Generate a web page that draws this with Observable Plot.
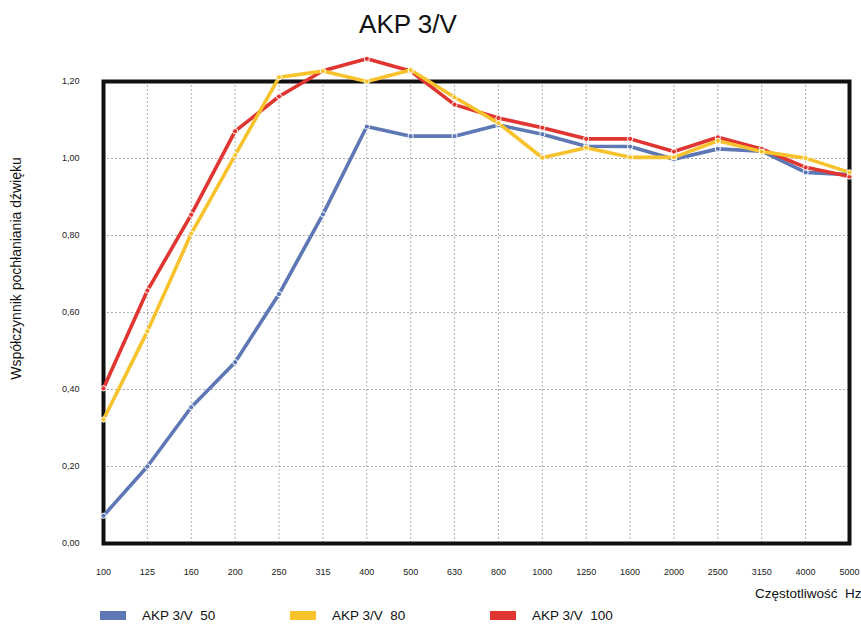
<!DOCTYPE html>
<html>
<head>
<meta charset="utf-8">
<script src="https://cdn.jsdelivr.net/npm/d3@7"></script>
<script src="https://cdn.jsdelivr.net/npm/@observablehq/plot@0.6"></script>
<style>
  html, body { margin: 0; padding: 0; background: white; }
  body { width: 861px; height: 625px; position: relative; overflow: hidden; font-family: "Liberation Sans", Arial, sans-serif; }
  #title { position: absolute; left: 0; top: 8px; width: 816px; text-align: center; font-size: 26px; line-height: 32px; color: #111; }
  #chart { position: absolute; left: 0; top: 50px; }
  .leg { position: absolute; top: 606px; height: 19px; display: flex; align-items: center; font-size: 13.5px; color: #111; }
  .sw { width: 26px; height: 9px; margin-right: 16px; }
</style>
</head>
<body>
<div id="title">AKP 3/V</div>
<div id="chart"></div>
<div id="legend"></div>
<script>
const freqs = ["100","125","160","200","250","315","400","500","630","800","1000","1250","1600","2000","2500","3150","4000","5000"];
const akp50  = [0.072,0.200,0.354,0.471,0.648,0.855,1.083,1.058,1.058,1.087,1.063,1.032,1.031,0.998,1.025,1.019,0.964,0.958];
const akp80  = [0.322,0.551,0.805,1.009,1.211,1.227,1.200,1.230,1.159,1.092,1.002,1.028,1.003,1.003,1.046,1.018,1.001,0.964];
const akp100 = [0.403,0.657,0.854,1.071,1.161,1.228,1.259,1.227,1.140,1.105,1.080,1.051,1.051,1.018,1.055,1.025,0.977,0.953];
const seriesNames = ["AKP 3/V  50", "AKP 3/V  80", "AKP 3/V  100"];
const seriesColors = ["#5d78b5", "#f7c22b", "#e03530"];
const yTicks = [0, 0.2, 0.4, 0.6, 0.8, 1.0, 1.2];
const xTitle = "Częstotliwość  Hz";
const yTitle = "Współczynnik pochłaniania dźwięku";

// frequency bands are equally spaced: position by band index, label by frequency
const bandIdx = freqs.map((f, i) => i);
const seriesValues = [akp50, akp80, akp100];
const data = [];
seriesValues.forEach((vals, si) => vals.forEach((v, i) => data.push({series: seriesNames[si], band: i, value: v})));

// draw order: blue, red, yellow
const drawOrder = [0, 2, 1];
const seriesMarks = drawOrder.flatMap(si => {
  const d = data.filter(r => r.series === seriesNames[si]);
  return [
    Plot.line(d, {x: "band", y: "value", stroke: seriesColors[si], strokeWidth: 3.6, strokeLinejoin: "round"}),
    Plot.dot(d, {x: "band", y: "value", fill: seriesColors[si], stroke: "white", strokeWidth: 1, r: 2.6})
  ];
});

const chart = Plot.plot({
  width: 861,
  height: 560,
  marginTop: 31,
  marginBottom: 67,
  marginLeft: 103,
  marginRight: 12,
  style: {fontFamily: "'Liberation Sans', Arial, sans-serif", fontSize: "9px", color: "#222", background: "white", overflow: "visible"},
  x: {type: "linear", domain: [0, freqs.length - 1], ticks: bandIdx, tickFormat: i => freqs[i], tickSize: 0, tickPadding: 25, label: null},
  y: {domain: [0, 1.2], ticks: yTicks, tickSize: 0, tickPadding: 24, label: null,
      tickFormat: d => d.toFixed(2).replace(".", ",")},
  marks: [
    Plot.ruleX(bandIdx, {x: d => d, stroke: "#999", strokeWidth: 0.8, strokeDasharray: "2,2"}),
    Plot.ruleY(yTicks.slice(1, -1), {y: d => d, stroke: "#999", strokeWidth: 0.8, strokeDasharray: "2,2"}),
    Plot.frame({stroke: "#111", strokeWidth: 4}),
    ...seriesMarks,
    Plot.text([xTitle], {frameAnchor: "bottom-right", text: d => d, dx: 12, dy: 54, textAnchor: "end", fontSize: 13.5, fill: "#111"}),
    Plot.text([yTitle], {frameAnchor: "left", text: d => d, rotate: -90, dx: -87, dy: -44, textAnchor: "middle", fontSize: 14, fill: "#111"})
  ]
});
document.getElementById("chart").appendChild(chart);

const legend = document.getElementById("legend");
const legendLeft = [100, 290, 490];
seriesNames.forEach((name, i) => {
  const item = document.createElement("div");
  item.className = "leg";
  item.style.left = legendLeft[i] + "px";
  const sw = document.createElement("span");
  sw.className = "sw";
  sw.style.background = seriesColors[i];
  const label = document.createElement("span");
  label.textContent = name;
  label.style.whiteSpace = "pre";
  item.appendChild(sw);
  item.appendChild(label);
  legend.appendChild(item);
});
</script>
</body>
</html>
